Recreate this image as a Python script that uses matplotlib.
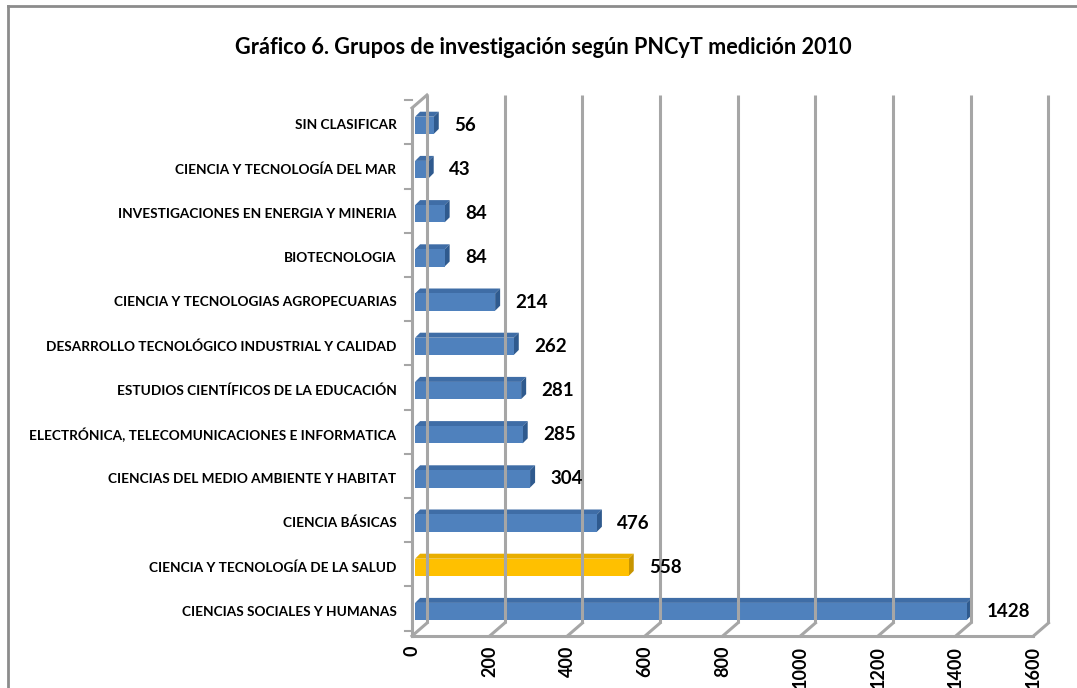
import matplotlib.pyplot as plt
from matplotlib.patches import Polygon

# data, bottom to top
categories = ['CIENCIAS SOCIALES Y HUMANAS', 'CIENCIA Y TECNOLOGÍA DE LA SALUD', 'CIENCIA BÁSICAS',
              'CIENCIAS DEL MEDIO AMBIENTE Y HABITAT', 'ELECTRÓNICA, TELECOMUNICACIONES E INFORMATICA',
              'ESTUDIOS CIENTÍFICOS DE LA EDUCACIÓN', 'DESARROLLO TECNOLÓGICO INDUSTRIAL Y CALIDAD',
              'CIENCIA Y TECNOLOGIAS AGROPECUARIAS', 'BIOTECNOLOGIA',
              'INVESTIGACIONES EN ENERGIA Y MINERIA', 'CIENCIA Y TECNOLOGÍA DEL MAR', 'SIN CLASIFICAR']
values = [1428, 558, 476, 304, 285, 281, 262, 214, 84, 84, 43, 56]
highlight = 'CIENCIA Y TECNOLOGÍA DE LA SALUD'
ticks = [0, 200, 400, 600, 800, 1000, 1200, 1400, 1600]
title = 'Gráfico 6. Grupos de investigación según PNCyT medición 2010'

plt.rcParams['font.family'] = ['Lato', 'DejaVu Sans']
W, H = 1077, 688
fig = plt.figure(figsize=(W / 100, H / 100), dpi=100)

# axes: x 412..1049 px, y 95..636 px
ax = fig.add_axes([412 / W, 1 - 636 / H, 637 / W, 541 / H])
y0, y1 = -0.554, 11.686
ax.set_xlim(0, 1640)
ax.set_ylim(y0, y1)
ax.axis('off')

DX, DY = 38.6, 0.294   # depth of the wall
grid = '#a6a6a6'
lw = 2.2

# back wall gridlines and floor diagonals
for t in ticks:
    ax.plot([t + DX, t + DX], [y0 + DY, y1], color=grid, lw=lw, solid_capstyle='butt', clip_on=False)
    ax.plot([t, t + DX], [y0, y0 + DY], color=grid, lw=lw, clip_on=False)
# front floor edge
ax.plot([0, 1600], [y0, y0], color=grid, lw=lw, clip_on=False)
# left wall front edge
ax.plot([0, 0], [y0, y1 - DY], color=grid, lw=lw, clip_on=False)
ax.plot([0, DX], [y1 - DY, y1], color=grid, lw=lw, clip_on=False)
# category ticks
for i in range(len(categories) + 1):
    ax.plot([-18, 0], [i - 0.43, i - 0.43], color=grid, lw=1.5, clip_on=False)

# bars with simple 3d faces
h = 0.39
bdx, bdy = 12.9, 0.113
x0 = 8
for i, (cat, v) in enumerate(zip(categories, values)):
    if cat == highlight:
        front, top, side = '#ffc000', '#e8ae00', '#c79500'
    else:
        front, top, side = '#4f81bd', '#3f6da6', '#2f5a8e'
    xe = v
    yb, yt = i - h / 2, i + h / 2
    ax.add_patch(Polygon([(x0, yt), (x0 + bdx, yt + bdy), (xe + bdx, yt + bdy), (xe, yt)],
                         closed=True, fc=top, ec='none'))
    ax.add_patch(Polygon([(xe, yb), (xe + bdx, yb + bdy), (xe + bdx, yt + bdy), (xe, yt)],
                         closed=True, fc=side, ec='none'))
    ax.barh(i, xe - x0, left=x0, height=h, color=front, edgecolor='none')
    ax.text(v + 52, i, str(v), fontsize=13.5, fontweight='bold', va='center', ha='left')
    ax.text(-40, i, cat, fontsize=9.8, fontweight='bold', va='center', ha='right')

for t in ticks:
    ax.text(t, y0 - 0.22, str(t), rotation=90, fontsize=13, fontweight='bold',
            ha='center', va='top')

fig.text(543 / W, 1 - 47 / H, title, fontsize=15.6, fontweight='bold', ha='center', va='center')

# outer frame (only top and left visible)
fig.add_artist(plt.Line2D([8 / W, 8 / W], [0, 1 - 6 / H], color='#8c8c8c', lw=2))
fig.add_artist(plt.Line2D([8 / W, 1], [1 - 6 / H, 1 - 6 / H], color='#8c8c8c', lw=2))

fig.savefig('out.png', dpi=100)
